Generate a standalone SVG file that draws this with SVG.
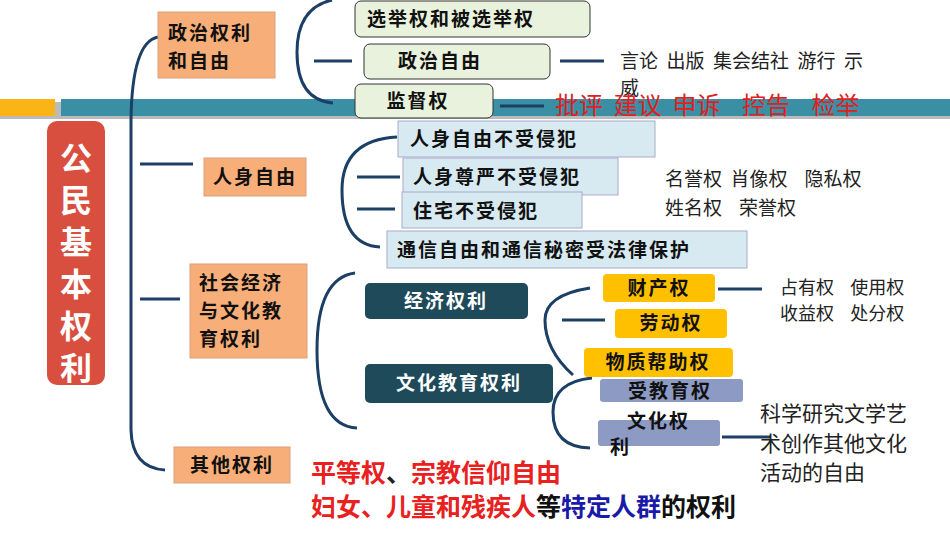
<svg xmlns="http://www.w3.org/2000/svg" width="950" height="535" viewBox="0 0 950 535">
<style>
text{font-family:"Noto Sans CJK SC","Liberation Sans",sans-serif;white-space:pre}
.b{font-size:19px;font-weight:bold;fill:#111;letter-spacing:2px}
.w{font-size:19px;font-weight:bold;fill:#fff;letter-spacing:2px}
.n{font-size:19px;fill:#222}
.or{fill:#f8ae78;stroke:#d9a27a}
.cv{fill:none;stroke:#1c3f66;stroke-width:3}
.g{fill:#e9f2dc;stroke:#333;stroke-width:1}
.bl{fill:#d7eaf1;stroke:#aac}
.y{fill:#ffc000}
.p{fill:#8c9ac4}
.d{fill:#1f4a5a}
</style>
<rect x="0" y="102" width="950" height="17" fill="#bbb"/>
<rect x="0" y="99" width="55" height="17" fill="#fbb415"/>
<rect x="61" y="99" width="889" height="17" fill="#3a8fa5"/>
<g id="connectors">
<path class="cv" d="M158,37 Q132,42 131,120 L131,430 Q132,468 165,470"/>
<path class="cv" d="M140,164 H193 M140,299 H180"/>
<path class="cv" d="M332,0 Q297,8 297,52 Q297,100 333,103 M314,61 H352 M560,61 H604 M500,106 H544"/>
<path class="cv" d="M397,137 Q342,140 342,190 Q342,245 380,247 M357,177 H400 M357,209 H395"/>
<path class="cv" d="M355,273 Q317,278 317,350 Q317,426 357,428"/>
<path class="cv" d="M590,288 Q545,295 545,320 Q545,350 573,375 M562,320 H605 M718,289 H762"/>
<path class="cv" d="M592,378 Q553,382 553,412 Q553,447 590,448 M722,437 H770"/>
</g>
<g id="root"><rect x="47" y="121" width="58" height="264" rx="10" fill="#d94f3f"/>
<text x="76" y="170" text-anchor="middle" font-size="32" font-weight="bold" fill="#fff"><tspan x="76">公</tspan><tspan x="76" dy="42">民</tspan><tspan x="76" dy="42">基</tspan><tspan x="76" dy="42">本</tspan><tspan x="76" dy="42">权</tspan><tspan x="76" dy="42">利</tspan></text></g>
<g id="zz"><rect class="or" x="158" y="12" width="117" height="66"/><text class="b" x="168" y="40">政治权利</text><text class="b" x="168" y="68">和自由</text></g>
<g id="rs"><rect class="or" x="204" y="158" width="102" height="38"/><text class="b" x="255" y="184" text-anchor="middle">人身自由</text></g>
<g id="sh"><rect class="or" x="190" y="264" width="117" height="94"/><text class="b" x="199" y="290">社会经济</text><text class="b" x="199" y="318">与文化教</text><text class="b" x="199" y="346">育权利</text></g>
<g id="qt"><rect class="or" x="174" y="447" width="116" height="36"/><text class="b" x="232" y="472" text-anchor="middle">其他权利</text></g>
<g id="xj"><rect class="g" x="355" y="1" width="235" height="36" rx="6"/><text class="b" x="367" y="26">选举权和被选举权</text></g>
<g id="zzzy"><rect class="g" x="364" y="44" width="186" height="35" rx="6" fill="#d3e6ab"/><text class="b" x="440" y="68" text-anchor="middle" letter-spacing="4">政治自由</text></g>
<g id="jd"><rect class="g" x="355" y="84" width="138" height="34" rx="6"/><text class="b" x="418" y="108" text-anchor="middle">监督权</text></g>
<text class="n" x="620" y="68">言论  出版  集会结社  游行  示</text>
<text class="n" x="620" y="95">威</text>
<text x="555" y="114" font-size="24" fill="#e02020">批评  建议  申诉    控告    检举</text>
<g id="p1"><rect class="bl" x="398" y="121" width="257" height="36"/><text class="b" x="410" y="146" letter-spacing="4">人身自由不受侵犯</text></g>
<g id="p2"><rect class="bl" x="403" y="158" width="215" height="37" fill="#b8dce8"/><text class="b" x="413" y="184" letter-spacing="3">人身尊严不受侵犯</text></g>
<g id="p3"><rect class="bl" x="402" y="192" width="180" height="36"/><text class="b" x="413" y="218" letter-spacing="3">住宅不受侵犯</text></g>
<g id="p4"><rect class="bl" x="387" y="231" width="360" height="37" fill="#b8dce8"/><text class="b" x="397" y="257">通信自由和通信秘密受法律保护</text></g>
<text class="n" x="665" y="186">名誉权  肖像权    隐私权</text>
<text class="n" x="665" y="215">姓名权    荣誉权</text>
<g id="jj"><rect class="d" x="365" y="283" width="163" height="36" rx="5"/><text class="w" x="446" y="308" text-anchor="middle">经济权利</text></g>
<g id="wh"><rect class="d" x="365" y="364" width="188" height="39" rx="5"/><text class="w" x="459" y="390" text-anchor="middle" letter-spacing="3">文化教育权利</text></g>
<g id="cc"><rect class="y" x="603" y="274" width="112" height="28" rx="4"/><text class="b" x="659" y="295" text-anchor="middle" font-size="17">财产权</text></g>
<g id="ld"><rect class="y" x="615" y="309" width="112" height="29" rx="4"/><text class="b" x="671" y="330" text-anchor="middle" font-size="17">劳动权</text></g>
<g id="wz"><rect class="y" x="584" y="348" width="149" height="29" rx="4"/><text class="b" x="658" y="369" text-anchor="middle" font-size="17">物质帮助权</text></g>
<g id="sj"><rect class="p" x="600" y="379" width="143" height="23" rx="3"/><text class="b" x="670" y="398" text-anchor="middle" font-size="17">受教育权</text></g>
<g id="whq"><rect class="p" x="598" y="420" width="122" height="26" rx="3"/><text class="b" x="627" y="428" font-size="17">文化权</text><text class="b" x="610" y="454" font-size="17">利</text></g>
<text font-size="18" fill="#222" x="780" y="294">占有权    使用权</text>
<text font-size="18" fill="#222" x="780" y="320">收益权    处分权</text>
<text font-size="21" fill="#222" x="760" y="421">科学研究文学艺</text>
<text font-size="21" fill="#222" x="760" y="451">术创作其他文化</text>
<text font-size="21" fill="#222" x="760" y="480">活动的自由</text>
<text font-size="25" font-weight="bold" fill="#e82020" x="311" y="482">平等权<tspan fill="#222">、</tspan>宗教信仰自由</text>
<text font-size="25" font-weight="bold" fill="#e82020" x="311" y="516">妇女、儿童和残疾人<tspan fill="#111">等</tspan><tspan fill="#1a1aa8">特定人群</tspan><tspan fill="#111">的权利</tspan></text>
</svg>
